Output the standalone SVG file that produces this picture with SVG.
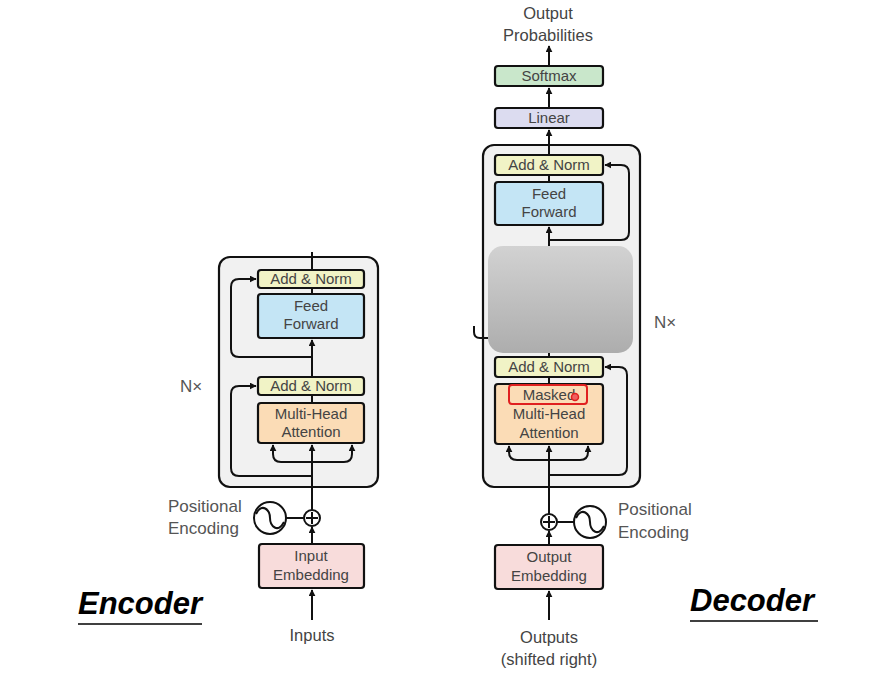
<svg xmlns="http://www.w3.org/2000/svg" width="869" height="677" viewBox="0 0 869 677">
<defs>
<marker id="ah" viewBox="0 0 10 10" refX="9" refY="5" markerWidth="7" markerHeight="7" markerUnits="userSpaceOnUse" orient="auto"><path d="M0,0 L10,5 L0,10 z" fill="#111"/></marker>
<linearGradient id="gg" x1="0" y1="0" x2="0" y2="1"><stop offset="0" stop-color="#d2d2d2"/><stop offset="1" stop-color="#adadad"/></linearGradient>
<style>
.t{font-family:"Liberation Sans",Arial,sans-serif;font-size:15px;fill:#444;text-anchor:middle}
.tl{font-family:"Liberation Sans",Arial,sans-serif;font-size:17px;fill:#555}
.b{stroke:#111;stroke-width:2.2}
.ln{fill:none;stroke:#111;stroke-width:2}
.big{font-family:"Liberation Sans",Arial,sans-serif;font-weight:bold;font-style:italic;font-size:31px;fill:#000}
</style>
</defs>
<rect width="869" height="677" fill="#fff"/>

<!-- Encoder -->
<g id="encoder-stack"><rect x="219" y="257" width="159" height="230" rx="11" fill="#f1f1f1" class="b"/></g>
<g id="enc-addnorm2"><rect x="258" y="270" width="106" height="18" rx="3" fill="#f1f3c6" class="b"/><text class="t" x="311" y="284">Add &amp; Norm</text></g>
<g id="enc-ff"><rect x="258" y="294" width="106" height="44" rx="3" fill="#c4e5f5" class="b"/><text class="t" x="311" y="311">Feed</text><text class="t" x="311" y="329">Forward</text></g>
<g id="enc-addnorm1"><rect x="258" y="377" width="106" height="18" rx="3" fill="#f1f3c6" class="b"/><text class="t" x="311" y="391">Add &amp; Norm</text></g>
<g id="enc-mha"><rect x="258" y="403" width="106" height="40" rx="3" fill="#fbdcb6" class="b"/><text class="t" x="311" y="419">Multi-Head</text><text class="t" x="311" y="437">Attention</text></g>
<g id="enc-emb"><rect x="259" y="544" width="105" height="44" rx="3" fill="#f8dcdb" class="b"/><text class="t" x="311" y="561">Input</text><text class="t" x="311" y="580">Embedding</text></g>
<g id="enc-pe"><circle cx="270" cy="518" r="16" fill="#fff" class="ln"/><path d="M256,514 C262,502 270,510 270,518 C270,526 278,534 284,522" class="ln" stroke-width="1.6"/><text class="tl" x="168" y="512">Positional</text><text class="tl" x="168" y="534">Encoding</text></g>
<g id="enc-add"><circle cx="312" cy="518" r="8" fill="#fff" class="ln" stroke-width="1.6"/><path d="M306,518 H318 M312,512 V524" class="ln" stroke-width="1.6"/></g>
<g id="enc-labels"><text class="tl" x="180" y="392">N×</text><text class="t" x="312" y="641" style="font-size:16.5px">Inputs</text><text class="big" x="78" y="614">Encoder</text><line x1="78" y1="624" x2="202" y2="624" stroke="#000" stroke-width="1.5"/></g>

<!-- Decoder -->
<g id="out-prob"><text class="t" x="548" y="19" style="font-size:16.5px">Output</text><text class="t" x="548" y="41" style="font-size:16.5px">Probabilities</text></g>
<g id="softmax"><rect x="495" y="66" width="108" height="20" rx="3" fill="#c9e7cb" class="b"/><text class="t" x="549" y="81">Softmax</text></g>
<g id="linear"><rect x="495" y="108" width="108" height="20" rx="3" fill="#dcdcf0" class="b"/><text class="t" x="549" y="123">Linear</text></g>
<g id="decoder-stack"><rect x="483" y="145" width="157" height="342" rx="11" fill="#f1f1f1" class="b"/></g>
<g id="dec-addnorm3"><rect x="495" y="155" width="108" height="20" rx="3" fill="#f1f3c6" class="b"/><text class="t" x="549" y="170">Add &amp; Norm</text></g>
<g id="dec-ff"><rect x="495" y="182" width="108" height="43" rx="3" fill="#c4e5f5" class="b"/><text class="t" x="549" y="199">Feed</text><text class="t" x="549" y="217">Forward</text></g>
<g id="hidden"><rect x="488" y="246" width="145" height="107" rx="15" fill="url(#gg)"/></g>
<g id="dec-addnorm1"><rect x="495" y="357" width="108" height="20" rx="3" fill="#f1f3c6" class="b"/><text class="t" x="549" y="372">Add &amp; Norm</text></g>
<g id="dec-mmha"><rect x="495" y="384" width="108" height="60" rx="3" fill="#fbdcb6" class="b"/><text class="t" x="549" y="400">Masked</text><text class="t" x="549" y="419">Multi-Head</text><text class="t" x="549" y="438">Attention</text><rect x="509" y="385" width="78" height="19" rx="3" fill="none" stroke="#e02020" stroke-width="2"/><circle cx="575" cy="397" r="3.5" fill="#f06060" stroke="#e02020" stroke-width="1.5"/></g>
<g id="dec-emb"><rect x="495" y="545" width="108" height="44" rx="3" fill="#f8dcdb" class="b"/><text class="t" x="549" y="562">Output</text><text class="t" x="549" y="581">Embedding</text></g>
<g id="dec-add"><circle cx="549" cy="522" r="8" fill="#fff" class="ln" stroke-width="1.6"/><path d="M543,522 H555 M549,516 V528" class="ln" stroke-width="1.6"/></g>
<g id="dec-pe"><circle cx="590" cy="522" r="16" fill="#fff" class="ln"/><path d="M576,518 C582,506 590,514 590,522 C590,530 598,538 604,526" class="ln" stroke-width="1.6"/><text class="tl" x="618" y="515">Positional</text><text class="tl" x="618" y="538">Encoding</text></g>
<g id="dec-labels"><text class="tl" x="654" y="328">N×</text><text class="t" x="549" y="643" style="font-size:16.5px">Outputs</text><text class="t" x="549" y="665" style="font-size:16.5px">(shifted right)</text><text class="big" x="690" y="611">Decoder</text><line x1="690" y1="621" x2="818" y2="621" stroke="#000" stroke-width="1.5"/></g>

<g id="connectors">
<!-- encoder -->
<path class="ln" d="M312,620 V590" marker-end="url(#ah)"/>
<path class="ln" d="M312,544 V527" marker-end="url(#ah)"/>
<path class="ln" d="M286,518 H304"/>
<path class="ln" d="M312,510 V445" marker-end="url(#ah)"/>
<path class="ln" d="M312,462 H281 Q273,462 273,454 V445" marker-end="url(#ah)"/>
<path class="ln" d="M312,462 H344 Q352,462 352,454 V445" marker-end="url(#ah)"/>
<path class="ln" d="M312,476 H239 Q231,476 231,468 V394 Q231,386 239,386 H256" marker-end="url(#ah)"/>
<path class="ln" d="M312,403 V395"/>
<path class="ln" d="M312,377 V340" marker-end="url(#ah)"/>
<path class="ln" d="M312,357 H239 Q231,357 231,349 V287 Q231,279 239,279 H256" marker-end="url(#ah)"/>
<path class="ln" d="M312,294 V288"/>
<path class="ln" d="M312,270 V252"/>
<!-- decoder -->
<path class="ln" d="M549,620 V591" marker-end="url(#ah)"/>
<path class="ln" d="M549,545 V531" marker-end="url(#ah)"/>
<path class="ln" d="M557,522 H574"/>
<path class="ln" d="M549,514 V446" marker-end="url(#ah)"/>
<path class="ln" d="M549,460 H517 Q509,460 509,452 V446" marker-end="url(#ah)"/>
<path class="ln" d="M549,460 H580 Q588,460 588,452 V446" marker-end="url(#ah)"/>
<path class="ln" d="M549,475 H619 Q627,475 627,467 V375 Q627,367 619,367 H605" marker-end="url(#ah)"/>
<path class="ln" d="M549,384 V377"/>
<path class="ln" d="M549,357 V353"/>
<path class="ln" d="M549,246 V227" marker-end="url(#ah)"/>
<path class="ln" d="M549,240 H621 Q629,240 629,232 V173 Q629,165 621,165 H605" marker-end="url(#ah)"/>
<path class="ln" d="M549,182 V175"/>
<path class="ln" d="M549,155 V130" marker-end="url(#ah)"/>
<path class="ln" d="M549,108 V88" marker-end="url(#ah)"/>
<path class="ln" d="M549,66 V46" marker-end="url(#ah)"/>
<path class="ln" d="M474,326 V332 Q474,338 480,338 H488"/>
</g>
</svg>
